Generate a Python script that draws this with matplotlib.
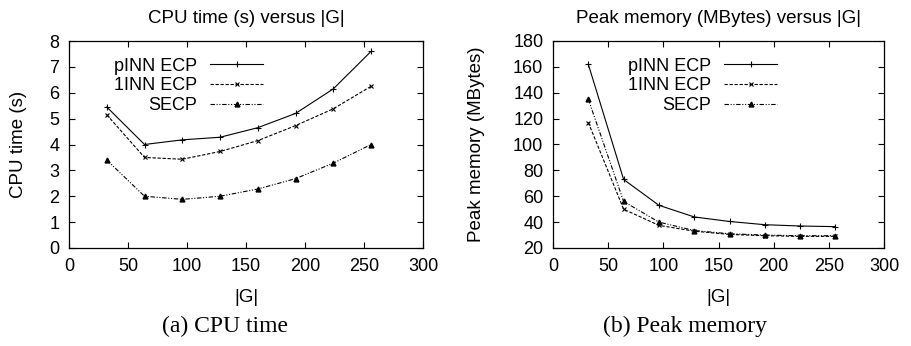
import matplotlib.pyplot as plt

# data
group_size = [32, 64, 96, 128, 160, 192, 224, 256]

cpu_pinn = [5.45, 4.0, 4.18, 4.28, 4.65, 5.2, 6.15, 7.6]
cpu_1inn = [5.15, 3.5, 3.43, 3.73, 4.15, 4.73, 5.38, 6.25]
cpu_secp = [3.4, 2.0, 1.88, 2.0, 2.28, 2.68, 3.28, 4.0]

mem_pinn = [162, 73, 53, 44, 40.5, 38, 37, 36.5]
mem_1inn = [117, 50, 37.5, 33, 30.5, 29.5, 29, 29]
mem_secp = [135, 56, 40, 33.5, 31, 30, 29.5, 29.5]

labels = ['pINN ECP', '1INN ECP', 'SECP']

plt.rcParams['font.family'] = 'Liberation Sans'

fig = plt.figure(figsize=(9.11, 3.46), dpi=100)
W, H = 911.0, 346.0

# axes boxes in pixels: (left, right, top, bottom)
boxes = [(69, 423, 41, 248), (553, 884, 41, 248)]
axs = []
for l, r, t, b in boxes:
    axs.append(fig.add_axes([l / W, 1 - b / H, (r - l) / W, (b - t) / H]))

styles = [dict(ls='-', marker='+', ms=4, mew=0.8),
          dict(ls=(0, (3, 1.5)), marker='x', ms=3.5, mew=0.8),
          dict(ls=(0, (4, 1.5, 1, 1.5, 1, 1.5)), marker='^', ms=3.5)]

def draw(ax, series, ylim, yticks, ylabel, title, caption, leg_x, capx, ylpad):
    for ys, lab, st in zip(series, labels, styles):
        ax.plot(group_size, ys, color='black', lw=0.8, label=lab, **st)
    ax.set_xlim(0, 300)
    ax.set_ylim(*ylim)
    ax.set_xticks(range(0, 301, 50))
    ax.set_yticks(yticks)
    ax.tick_params(direction='in', top=True, right=True, length=4, width=0.8,
                   labelsize=13, pad=7)
    for s in ax.spines.values():
        s.set_linewidth(0.9)
    ax.set_ylabel(ylabel, fontsize=13.5, labelpad=ylpad)
    ax.set_xlabel('|G|', fontsize=13.5, labelpad=10)
    ax.set_title(title, fontsize=13.5, pad=13)
    ax.legend(loc='upper right', bbox_to_anchor=(leg_x, 0.955), frameon=False,
              markerfirst=False, numpoints=1, handlelength=2.9, handletextpad=0.75,
              labelspacing=0.15, fontsize=13, borderaxespad=0)
    fig.text(capx / W, 1 - 326 / H, caption, family='Liberation Serif',
             fontsize=17, ha='center', va='center')

draw(axs[0], [cpu_pinn, cpu_1inn, cpu_secp], (0, 8), range(0, 9),
     'CPU time (s)', 'CPU time (s) versus |G|', '(a) CPU time', 0.568, 225, 16)
draw(axs[1], [mem_pinn, mem_1inn, mem_secp], (20, 180), range(20, 181, 20),
     'Peak memory (MBytes)', 'Peak memory (MBytes) versus |G|', '(b) Peak memory', 0.698, 685, 20)

fig.savefig('out.png', dpi=100)
